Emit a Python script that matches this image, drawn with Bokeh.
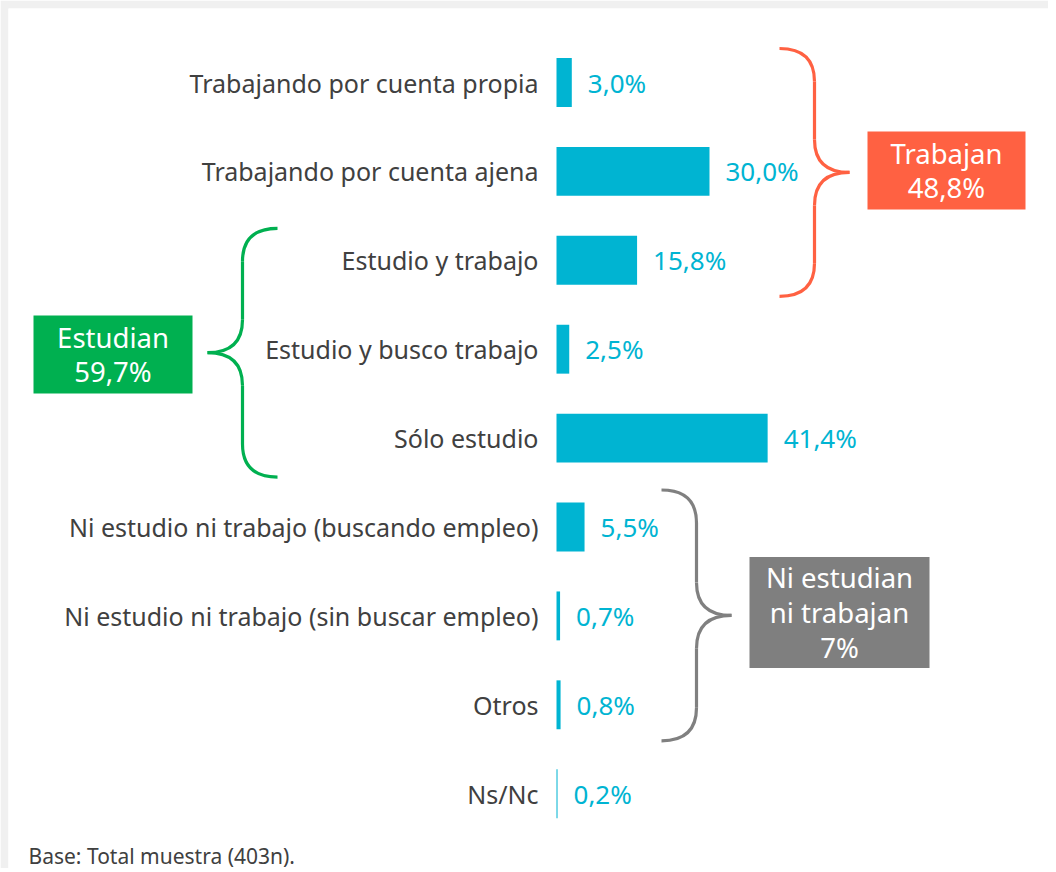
from bokeh.plotting import figure
from bokeh.models import Range1d
from bokeh.core.properties import value
from bokeh.embed import file_html
from bokeh.resources import INLINE

# ---------------- data ----------------
categories = [
    "Trabajando por cuenta propia",
    "Trabajando por cuenta ajena",
    "Estudio y trabajo",
    "Estudio y busco trabajo",
    "Sólo estudio",
    "Ni estudio ni trabajo (buscando empleo)",
    "Ni estudio ni trabajo (sin buscar empleo)",
    "Otros",
    "Ns/Nc",
]
values = [3.0, 30.0, 15.8, 2.5, 41.4, 5.5, 0.7, 0.8, 0.2]
value_labels = ["3,0%", "30,0%", "15,8%", "2,5%", "41,4%", "5,5%", "0,7%", "0,8%", "0,2%"]

group_names = ["Trabajan\n48,8%", "Estudian\n59,7%", "Ni estudian\nni trabajan\n7%"]
group_first = [0, 2, 5]
group_last = [2, 4, 7]
footnote = "Base: Total muestra (403n)."

# ---------------- layout / style ----------------
FONT = "Noto Sans"
MARGIN = 8
W, H = 1048, 868          # whole canvas
FW, FH = W - MARGIN, H - MARGIN   # plot frame
PX_PCT = 5.1      # pixels per percentage point
PX_ROW = 88.9     # pixels per row
ZERO_X = 548      # pixel position of 0 % inside the frame
ROW0_Y = 74       # pixel position of first row inside the frame

x_start = -ZERO_X / PX_PCT
x_end = x_start + FW / PX_PCT
y_top = -ROW0_Y / PX_ROW
y_bottom = y_top + FH / PX_ROW


def px_x(img_x):
    return (img_x - MARGIN - ZERO_X) / PX_PCT


def px_y(img_y):
    return (img_y - MARGIN - ROW0_Y) / PX_ROW


BAR = "#00B4D2"
TXT = "#404040"
group_colors = ["#FF6142", "#00B050", "#808080"]
box_fill = ["#FF6142", "#00B050", "#7F7F7F"]

p = figure(width=W, height=H, x_range=Range1d(x_start, x_end),
           y_range=Range1d(y_bottom, y_top),
           x_axis_location=None, y_axis_location=None,
           output_backend="svg", toolbar_location=None,
           min_border=0, min_border_left=MARGIN, min_border_top=MARGIN)
p.grid.visible = False
p.outline_line_color = None
p.background_fill_color = "white"
p.border_fill_color = "#F0F0F0"

rows = list(range(len(categories)))

p.hbar(y=rows, left=0, right=values, height=0.55, fill_color=BAR, line_color=None)

p.text(x=[0] * len(rows), y=rows, text=categories, x_offset=-18,
       text_align="right", text_baseline="middle", text_color=TXT,
       text_font=value(FONT), text_font_size="25px")

p.text(x=values, y=rows, text=value_labels, x_offset=16,
       text_align="left", text_baseline="middle", text_color=BAR,
       text_font=value(FONT), text_font_size="26px")

# ---------------- braces ----------------
brace_tip_x = [px_x(779), px_x(277), px_x(661)]
brace_dir = [1, -1, 1]
brace_top_pad = [34, 32, 37]
brace_bot_pad = [36, 39, 36]
D = 35 / PX_PCT
R = 33 / PX_ROW

for i in range(3):
    s = brace_dir[i]
    x0 = brace_tip_x[i]
    yt = group_first[i] - brace_top_pad[i] / PX_ROW
    yb = group_last[i] + brace_bot_pad[i] / PX_ROW
    ym = (yt + yb) / 2
    xv = x0 + s * D
    xp = x0 + 2 * s * D
    col = group_colors[i]
    p.quadratic(x0=[x0, xv, xv, xv], y0=[yt, ym - R, ym + R, yb - R],
                x1=[xv, xp, xp, x0], y1=[yt + R, ym, ym, yb],
                cx=[xv, xv, xv, xv], cy=[yt, ym, ym, yb],
                line_color=col, line_width=3.2)
    p.segment(x0=[xv, xv], y0=[yt + R, ym + R], x1=[xv, xv], y1=[ym - R, yb - R],
              line_color=col, line_width=3.2)

# ---------------- group boxes ----------------
box_cx = [(867 + 1025) / 2, (33 + 192) / 2, (749 + 929) / 2]
box_cy = [170, 354, 612]
box_w = [158, 159, 180]
box_h = [78, 78, 111]
for i in range(3):
    xc = px_x(box_cx[i])
    yc = px_y(box_cy[i])
    p.rect(x=[xc], y=[yc], width=[box_w[i]], height=[box_h[i]],
           width_units="screen", height_units="screen",
           fill_color=box_fill[i], line_color=None)
    p.text(x=[xc], y=[yc], text=[group_names[i]], text_align="center",
           text_baseline="middle", text_color="white", text_font=value(FONT),
           text_font_size="27.5px", text_line_height=0.94)

p.text(x=[px_x(28)], y=[px_y(855)], text=[footnote], text_align="left",
       text_baseline="middle", text_color=TXT, text_font=value(FONT),
       text_font_size="21px")

open("out.html", "w").write(file_html(p, INLINE))
